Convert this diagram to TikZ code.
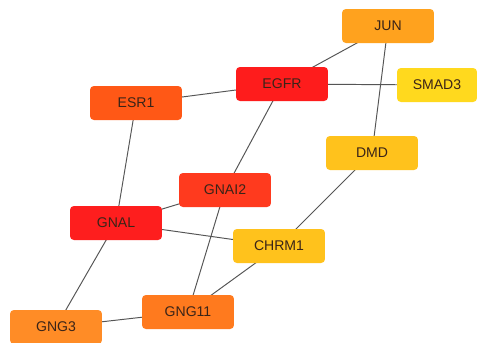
\documentclass[tikz,border=0pt]{standalone}
\usepackage{fontspec}
\setmainfont{Liberation Sans}
\usetikzlibrary{backgrounds}
\definecolor{cEGFR}{HTML}{FE1C1C}
\definecolor{cGNAL}{HTML}{FE1E1E}
\definecolor{cGNAI}{HTML}{FF3A1E}
\definecolor{cESR}{HTML}{FF5816}
\definecolor{cGNGe}{HTML}{FF7A1E}
\definecolor{cGNGt}{HTML}{FF8C26}
\definecolor{cJUN}{HTML}{FFA21E}
\definecolor{cDMD}{HTML}{FFC21C}
\definecolor{cSMAD}{HTML}{FFD91E}
\definecolor{txt}{HTML}{3A2418}
\definecolor{edge}{HTML}{555555}
\tikzset{
  gene/.style={rectangle, rounded corners=2.2pt, minimum width=1.84cm,
    minimum height=0.68cm, inner sep=0pt, text=txt,
    font=\fontsize{8}{9}\selectfont},
  link/.style={draw=edge, line width=0.55pt},
}
\begin{document}
\begin{tikzpicture}[x=0.02cm, y=-0.02cm]
\useasboundingbox (0,0) rectangle (480,342);
% genes
\node[gene, fill=cJUN]  (JUN)   at (388,26)  {JUN};
\node[gene, fill=cEGFR] (EGFR)  at (282,84)  {EGFR};
\node[gene, fill=cSMAD, minimum width=1.6cm] (SMAD3) at (437,85) {SMAD3};
\node[gene, fill=cESR]  (ESR1)  at (136,103) {ESR1};
\node[gene, fill=cDMD]  (DMD)   at (372,153) {DMD};
\node[gene, fill=cGNAI] (GNAI2) at (225,190) {GNAI2};
\node[gene, fill=cGNAL] (GNAL)  at (116,223) {GNAL};
\node[gene, fill=cDMD]  (CHRM1) at (279,246) {CHRM1};
\node[gene, fill=cGNGe] (GNG11) at (188,312) {GNG11};
\node[gene, fill=cGNGt] (GNG3)  at (56,327)  {GNG3};
% interactions, drawn beneath the genes
\begin{scope}[on background layer]
\fill[white] (0,0) rectangle (480,342);
\draw[link] (ESR1.center) -- (EGFR.center);
\draw[link] (ESR1.center) -- (GNAL.center);
\draw[link] (EGFR.center) -- (JUN.center);
\draw[link] (EGFR.center) -- (SMAD3.center);
\draw[link] (EGFR.center) -- (GNAI2.center);
\draw[link] (JUN.center) -- (DMD.center);
\draw[link] (DMD.center) -- (CHRM1.center);
\draw[link] (GNAI2.center) -- (GNAL.center);
\draw[link] (GNAI2.center) -- (GNG11.center);
\draw[link] (GNAL.center) -- (CHRM1.center);
\draw[link] (GNAL.center) -- (GNG3.center);
\draw[link] (CHRM1.center) -- (GNG11.center);
\draw[link] (GNG11.center) -- (GNG3.center);
\end{scope}
\end{tikzpicture}
\end{document}
